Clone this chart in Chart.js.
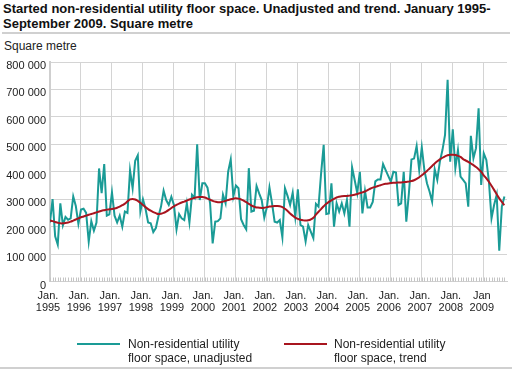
<!DOCTYPE html>
<html>
<head>
<meta charset="utf-8">
<script src="https://cdn.jsdelivr.net/npm/chart.js@4/dist/chart.umd.min.js"></script>
<style>
  html, body { margin: 0; padding: 0; background: #fff; }
  #wrap { position: relative; width: 512px; height: 370px; overflow: hidden; font-family: "Liberation Sans", Arial, sans-serif; color: #111; }
  #title { position: absolute; left: 3px; top: 1px; width: 509px; font-weight: bold; font-size: 13px; line-height: 15px; color: #111; }
  #rule1 { position: absolute; left: 2px; top: 32px; width: 508px; height: 2px; background: #d0d0d0; }
  #unit { position: absolute; left: 4px; top: 39px; font-size: 12px; color: #222; }
  #chart { position: absolute; left: 0; top: 0; }
  .leg { position: absolute; font-size: 12px; line-height: 14px; color: #222; }
  .swatch { position: absolute; height: 2px; }
  #rule2 { position: absolute; left: 0px; top: 367px; width: 512px; height: 2px; background: #d0d0d0; }
</style>
</head>
<body>
<div id="wrap">
  <div id="title">Started non-residential utility floor space. Unadjusted and trend. January 1995-September 2009. Square metre</div>
  <div id="rule1"></div>
  <div id="unit">Square metre</div>
  <canvas id="chart" width="512" height="370"></canvas>
  <div class="swatch" id="sw1" style="left:77px; top:343px; width:43px;"></div>
  <div class="leg" id="lg1" style="left:128px; top:337px;"></div>
  <div class="swatch" id="sw2" style="left:284px; top:343px; width:43px;"></div>
  <div class="leg" id="lg2" style="left:334px; top:337px;"></div>
  <div id="rule2"></div>
</div>
<script>
// Year tick labels (January of each year)
const yearLabels = [
  ["Jan.", "1995"], ["Jan.", "1996"], ["Jan.", "1997"], ["Jan.", "1998"], ["Jan.", "1999"],
  ["Jan.", "2000"], ["Jan.", "2001"], ["Jan.", "2002"], ["Jan.", "2003"], ["Jan.", "2004"],
  ["Jan.", "2005"], ["Jan.", "2006"], ["Jan.", "2007"], ["Jan.", "2008"], ["Jan", "2009"]
];

// Series names
const seriesNames = [
  ["Non-residential utility", "floor space, unadjusted"],
  ["Non-residential utility", "floor space, trend"]
];

// Monthly values, Jan 1995 - Sep 2009, in thousand square metres
const unadjusted = [
  215, 300, 165, 135, 285, 205, 235, 225, 230, 310, 275, 210,
  262, 265, 250, 145, 220, 185, 215, 412, 322, 428, 240, 245,
  325, 240, 215, 240, 200, 255, 250, 405, 340, 440, 460, 255,
  300, 265, 215, 212, 180, 195, 238, 273, 331, 297, 279, 309,
  279, 190, 246, 230, 224, 285, 215, 316, 305, 500, 297, 358,
  358, 342, 285, 139, 218, 220, 230, 316, 285, 400, 445, 310,
  350, 340, 227, 206, 190, 413, 255, 258, 348, 321, 297, 233,
  270, 343, 285, 218, 215, 224, 161, 340, 312, 279, 324, 236,
  336, 206, 200, 146, 206, 182, 158, 283, 273, 394, 498, 246,
  248, 358, 200, 285, 255, 285, 248, 297, 200, 416, 370, 322,
  400, 248, 330, 270, 270, 290, 365, 372, 372, 428, 406, 385,
  364, 400, 397, 279, 285, 400, 218, 321, 445, 448, 494, 406,
  489, 406, 358, 328, 291, 409, 370, 437, 479, 534, 735, 437,
  555, 413, 479, 382, 370, 358, 273, 531, 449, 486, 631, 352,
  467, 443, 364, 230, 279, 316, 112, 273, 310
];

const trend = [
  222, 220, 217, 214, 212, 212, 213, 215, 218, 222, 226, 230,
  234, 237, 240, 243, 246, 249, 252, 255, 258, 260, 262, 263,
  264, 266, 269, 273, 278, 284, 292, 299, 301, 299, 294, 287,
  279, 271, 264, 258, 253, 249, 246, 247, 250, 255, 261, 268,
  274, 279, 284, 288, 291, 295, 299, 302, 305, 307, 308, 308,
  306, 302, 298, 294, 291, 289, 289, 291, 294, 297, 300, 302,
  303, 302, 299, 295, 289, 283, 277, 273, 270, 269, 268, 269,
  271, 273, 274, 275, 275, 274, 271, 265, 257, 248, 240, 233,
  228, 225, 223, 222, 223, 226, 232, 244, 254, 264, 274, 283,
  290, 296, 301, 306, 309, 311, 312, 312, 313, 314, 316, 319,
  322, 325, 328, 333, 338, 342, 345, 348, 351, 354, 356, 357,
  359, 360, 360, 361, 361, 362, 363, 364, 366, 369, 374, 380,
  387, 395, 403, 412, 421, 430, 438, 445, 451, 456, 460, 462,
  462, 461, 458, 454, 446, 441, 436, 430, 424, 417, 409, 400,
  387, 376, 363, 349, 334, 318, 303, 290, 278
];

const colors = ["#1a9b96", "#a8151f"];

document.getElementById('sw1').style.background = colors[0];
document.getElementById('sw2').style.background = colors[1];
document.getElementById('lg1').innerHTML = seriesNames[0].join('<br>');
document.getElementById('lg2').innerHTML = seriesNames[1].join('<br>');

const yearTicks = yearLabels.map((_, i) => i * 12);

const minorTicks = {
  id: 'minorTicks',
  afterDatasetsDraw(chart) {
    const xs = chart.scales.x, ca = chart.chartArea, ctx = chart.ctx;
    ctx.save();
    ctx.strokeStyle = '#c4c4c4';
    ctx.lineWidth = 1;
    ctx.beginPath();
    for (let i = 0; i < unadjusted.length; i++) {
      const x = Math.round(xs.getPixelForValue(i)) + 0.5;
      ctx.moveTo(x, ca.bottom - 4);
      ctx.lineTo(x, ca.bottom);
    }
    ctx.stroke();
    ctx.restore();
  }
};

function fmt(v) {
  return String(v).replace(/\B(?=(\d{3})+(?!\d))/g, ' ');
}

new Chart(document.getElementById('chart'), {
  type: 'line',
  data: {
    datasets: [
      {
        label: seriesNames[0].join(' '),
        data: unadjusted.map((v, i) => ({ x: i, y: v * 1000 })),
        borderColor: colors[0], borderWidth: 2, pointRadius: 0, tension: 0, order: 2
      },
      {
        label: seriesNames[1].join(' '),
        data: trend.map((v, i) => ({ x: i, y: v * 1000 })),
        borderColor: colors[1], borderWidth: 2, pointRadius: 0, tension: 0.4, order: 1
      }
    ]
  },
  options: {
    responsive: false,
    animation: false,
    events: [],
    layout: { padding: { left: 0, top: 62, right: 5, bottom: 48.5 } },
    plugins: { legend: { display: false }, tooltip: { enabled: false } },
    scales: {
      x: {
        type: 'linear',
        min: 0,
        max: unadjusted.length,
        afterFit(s) { s.height = 40; },
        afterBuildTicks(s) { s.ticks = yearTicks.map(v => ({ value: v })); },
        grid: { color: '#d4d4d4', lineWidth: 1, drawTicks: false },
        border: { display: true, color: '#d0d0d0', width: 1 },
        ticks: {
          autoSkip: false, maxRotation: 0, padding: 8, labelOffset: -2,
          color: '#222',
          font: { family: '"Liberation Sans", Arial, sans-serif', size: 11, lineHeight: 1.12 },
          callback: (v) => yearLabels[Math.round(v / 12)] || ''
        }
      },
      y: {
        min: 0, max: 800000,
        afterFit(s) { s.width = 50; },
        grid: { color: '#d4d4d4', lineWidth: 1, drawTicks: false },
        border: { display: true, color: '#cfcfcf', width: 2 },
        ticks: {
          stepSize: 100000, padding: 4, labelOffset: 4, color: '#222',
          font: { family: '"Liberation Sans", Arial, sans-serif', size: 11 },
          callback: (v) => fmt(v)
        }
      }
    }
  },
  plugins: [minorTicks]
});
</script>
</body>
</html>
